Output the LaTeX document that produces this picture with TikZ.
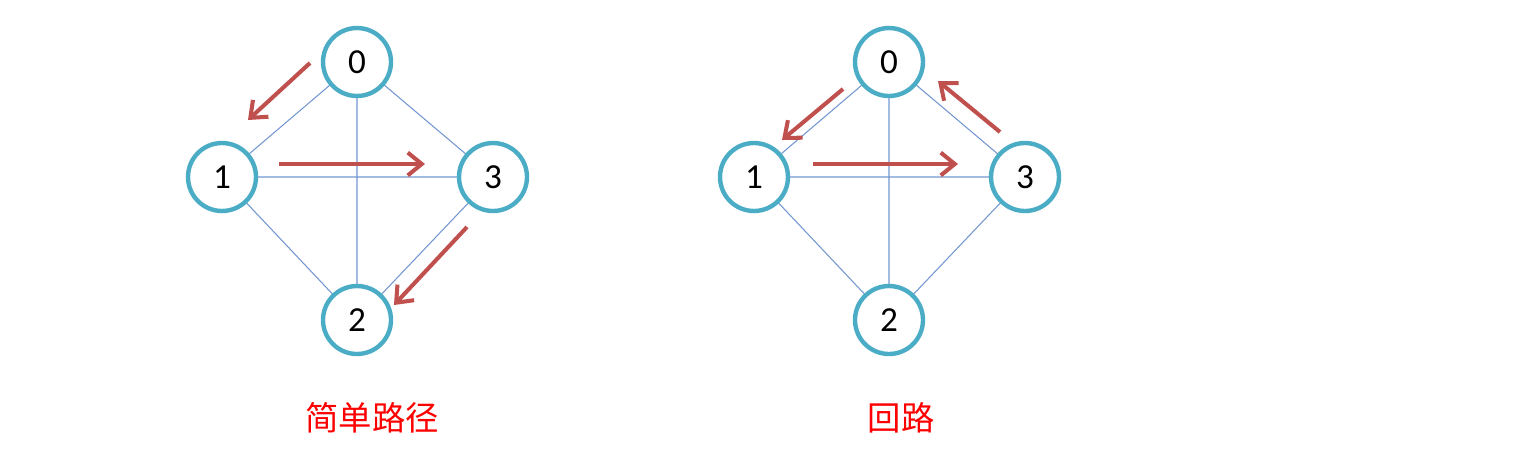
\documentclass[tikz,border=0pt]{standalone}
\usepackage{fontspec}
\setmainfont{Carlito}
\newfontfamily\cjk{Noto Sans CJK SC}
\usepackage{xcolor}
\usepackage{tikz}
\usetikzlibrary{arrows.meta}
\definecolor{ringblue}{RGB}{75,172,198}
\definecolor{edgeblue}{RGB}{115,150,210}
\definecolor{arrowred}{RGB}{192,80,77}

\begin{document}
\begin{tikzpicture}[x=0.02cm,y=-0.02cm,
	vert/.style={circle,draw=ringblue,fill=white,line width=2.5pt,minimum size=1.36cm,inner sep=0pt,font=\fontsize{20}{20}\selectfont},
	edge/.style={draw=edgeblue,line width=0.6pt},
	walk/.style={draw=arrowred,line width=2.3pt,-{Straight Barb[length=8pt,width=13pt]}},
	title/.style={text=red,font=\cjk\fontsize{19}{19}\selectfont}]
	\useasboundingbox (0,0) rectangle (1530,450);
	% the two graphs
	\foreach \g/\dx in {a/0,b/532}{
		\coordinate (\g c0) at (357+\dx,62);
		\coordinate (\g c1) at (222+\dx,177);
		\coordinate (\g c2) at (357+\dx,320);
		\coordinate (\g c3) at (493+\dx,177);
		\path[edge] (\g c0) -- (\g c1) (\g c0) -- (\g c2) (\g c0) -- (\g c3)
			(\g c1) -- (\g c3) (\g c1) -- (\g c2) (\g c3) -- (\g c2);
		\node[vert] (\g0) at (\g c0) {0};
		\node[vert] (\g1) at (\g c1) {1};
		\node[vert] (\g2) at (\g c2) {2};
		\node[vert] (\g3) at (\g c3) {3};
	}
	% simple path
	\coordinate (ap1) at (310,63);  \coordinate (aq1) at (248,120);
	\coordinate (ap2) at (279,164); \coordinate (aq2) at (425,164);
	\coordinate (ap3) at (467,227); \coordinate (aq3) at (394,305);
	\draw[walk] (ap1) -- (aq1);
	\draw[walk] (ap2) -- (aq2);
	\draw[walk] (ap3) -- (aq3);
	% cycle
	\coordinate (bp1) at (843,89);   \coordinate (bq1) at (782,140);
	\coordinate (bp2) at (813,164);  \coordinate (bq2) at (958,164);
	\coordinate (bp3) at (1000,132); \coordinate (bq3) at (938,81);
	\draw[walk] (bp1) -- (bq1);
	\draw[walk] (bp2) -- (bq2);
	\draw[walk] (bp3) -- (bq3);
	\node[title] (ta) at (372,418) {简单路径};
	\node[title] (tb) at (901,418) {回路};
\end{tikzpicture}
\end{document}
